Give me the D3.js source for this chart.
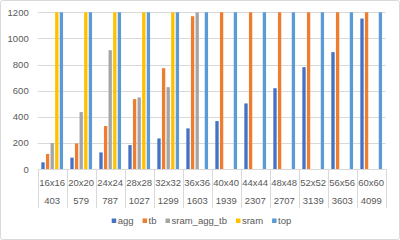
<!DOCTYPE html>
<html><head><meta charset="utf-8">
<script src="https://cdn.jsdelivr.net/npm/d3@7"></script>
<style>body{margin:0;background:#fff}svg{display:block}text{font-family:"Liberation Sans",Arial,sans-serif;fill:#595959}</style>
</head><body><svg id="c" width="400" height="240"></svg>
<script>
const categories = ["16x16","20x20","24x24","28x28","32x32","36x36","40x40","44x44","48x48","52x52","56x56","60x60"];
const subLabels = ["403","579","787","1027","1299","1603","1939","2307","2707","3139","3603","4099"];
const seriesNames = ["agg","tb","sram_agg_tb","sram","top"];
const agg = [51,87,127,183,234,311,367,502,619,780,895,1152];
const tb = [115,196,329,535,772,1170,1200,1200,1200,1200,1200,1200];
const sramAggTb = [199,436,910,548,627,1200,null,null,null,null,null,null];
const sram = [1200,1200,1200,1200,1200,null,null,null,null,null,null,null];
const top_ = [1200,1200,1200,1200,1200,1200,1200,1200,1200,1200,1200,1200];
const yTicks = [0,200,400,600,800,1000,1200];
const colors = ["#4472C4","#ED7D31","#A5A5A5","#FFC000","#5B9BD5"];
const seriesVals = [agg,tb,sramAggTb,sram,top_];
const FS = "9.5px";

const svg = d3.select("#c");
svg.append("rect").attr("x",0.5).attr("y",0.5).attr("width",399).attr("height",239).attr("rx",2).attr("fill","#fff").attr("stroke","#D9D9D9");
const L=37.7,R=385.7,T=12.3,B=169;
const x0 = d3.scaleBand().domain(categories).range([L,R]);
const x1 = d3.scaleBand().domain(seriesNames).range([0,x0.bandwidth()]).paddingInner(0.28).paddingOuter(0.79);
const y = d3.scaleLinear().domain([0,1200]).range([B,T]);

// grid
svg.append("g").selectAll("line").data(yTicks.filter(d=>d>0)).join("line")
 .attr("x1",L).attr("x2",R).attr("y1",d=>Math.round(y(d))+0.5).attr("y2",d=>Math.round(y(d))+0.5)
 .attr("stroke","#D9D9D9").attr("stroke-width",1);
// y axis labels
const ya = svg.append("g").attr("transform",`translate(${L-9},0)`)
 .call(d3.axisLeft(y).tickValues(yTicks).tickFormat(d3.format("d")).tickSize(0).tickPadding(0));
ya.select(".domain").remove();
ya.selectAll("text").style("font-size",FS).attr("fill","#595959").style("font-family",null);

// bars
seriesNames.forEach((s,si)=>{
  const data = categories.map((c,i)=>({c,v:seriesVals[si][i]})).filter(d=>d.v!=null);
  svg.append("g").selectAll("rect").data(data).join("rect")
   .attr("x",d=>x0(d.c)+x1(s)).attr("width",x1.bandwidth())
   .attr("y",d=>y(d.v)).attr("height",d=>y(0)-y(d.v)).attr("fill",colors[si]);
});
// x axis line and separators
svg.append("line").attr("x1",L).attr("x2",R).attr("y1",B+0.5).attr("y2",B+0.5).attr("stroke","#D9D9D9");
const seps = categories.map(c=>x0(c)).concat([R]);
svg.append("g").selectAll("line").data(seps).join("line")
 .attr("x1",d=>Math.round(d)+0.5).attr("x2",d=>Math.round(d)+0.5).attr("y1",B).attr("y2",208)
 .attr("stroke","#D9D9D9");
// category labels
const xl = svg.append("g");
categories.forEach((c,i)=>{
  const cx = x0(c)+x0.bandwidth()/2;
  xl.append("text").attr("x",cx).attr("y",186).attr("text-anchor","middle").style("font-size",FS).text(c);
  xl.append("text").attr("x",cx).attr("y",204).attr("text-anchor","middle").style("font-size",FS).text(subLabels[i]);
});
// legend
const lg = svg.append("g");
let cx = 0;
seriesNames.forEach((s,i)=>{
  const g = lg.append("g");
  g.append("rect").attr("x",0).attr("y",-3.5).attr("width",4.5).attr("height",4.5).attr("fill",colors[i]);
  const t = g.append("text").attr("x",6).attr("y",1.5).style("font-size",FS).text(s);
  const w = 6 + t.node().getComputedTextLength();
  g.attr("transform",`translate(${cx},0)`);
  cx += w + 9;
});
const total = cx - 9;
lg.attr("transform",`translate(${(111+292)/2 - total/2},222)`);
</script></body></html>
